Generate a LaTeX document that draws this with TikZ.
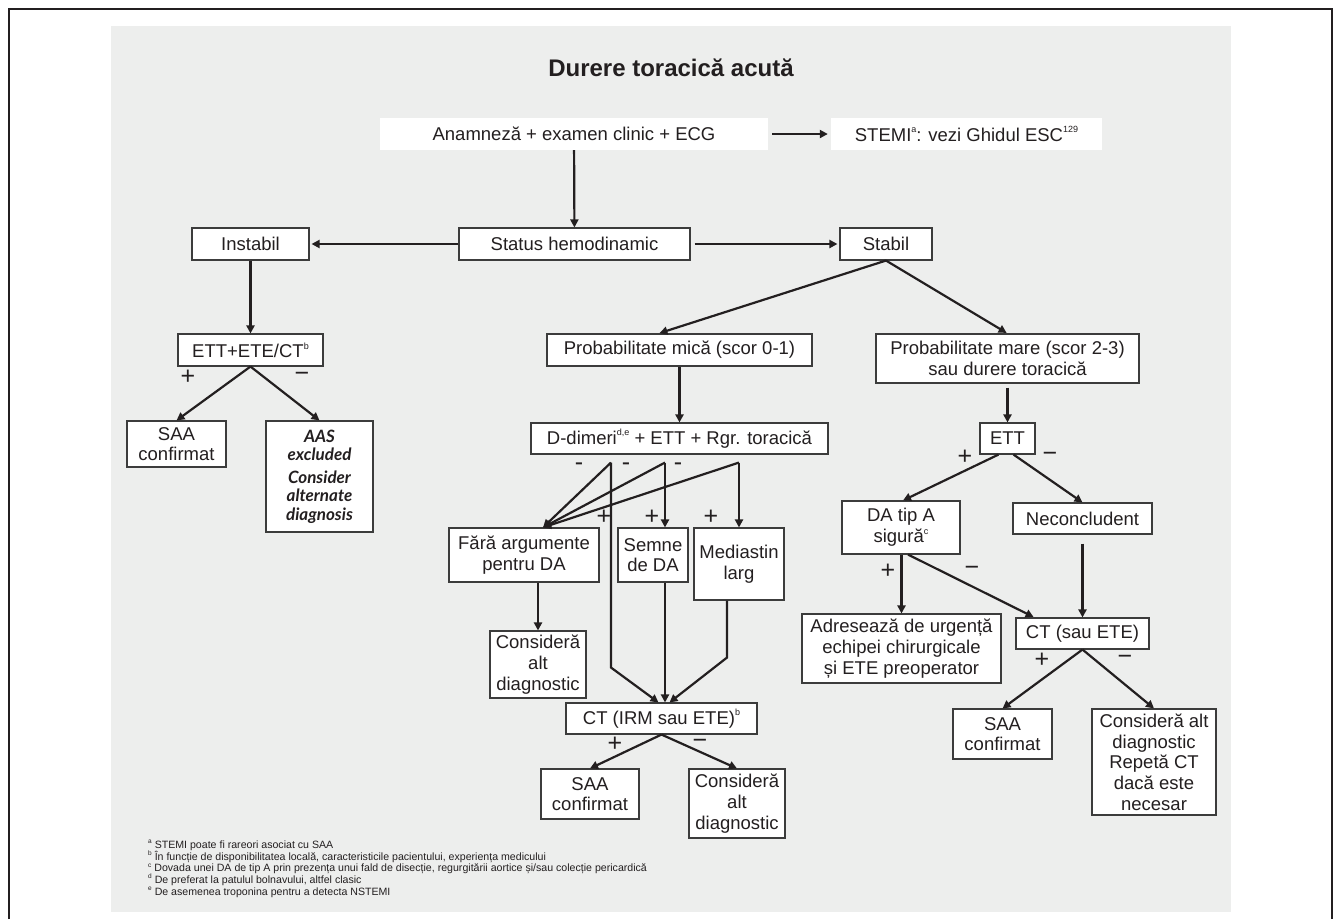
\documentclass[tikz,border=0pt]{standalone}
\usepackage{fontspec}
\setmainfont{Liberation Sans}
\newfontfamily\aasfont{Lato}
\usetikzlibrary{arrows.meta,calc}
\definecolor{panel}{HTML}{EDEEED}
\definecolor{ink}{HTML}{231F20}
\definecolor{edge}{HTML}{3C3C3C}
\newcommand{\mysup}[1]{\raisebox{0.85ex}{\fontsize{9}{9}\selectfont #1}}
\newcommand{\fnsup}[1]{\raisebox{0.8ex}{\fontsize{6.5}{6.5}\selectfont #1}}
\begin{document}
\begin{tikzpicture}[x=1pt,y=-1pt,
  font=\fontsize{18.5}{20.7}\selectfont, text=ink,
  box/.style={draw=edge, line width=1.1pt, fill=white, align=center, inner sep=0pt},
  wbox/.style={fill=white, align=center, inner sep=0pt},
  conn/.style={draw=ink, line width=2.2pt},
  arr/.style={conn, -{Triangle[length=8pt,width=8pt]}},
  sgn/.style={font=\fontsize{25}{25}\selectfont, inner sep=0pt},
  fn/.style={anchor=base west, inner sep=0pt, font=\fontsize{10.6}{12}\selectfont}]
\useasboundingbox (0,0) rectangle (1335,919);
\fill[panel] (111,26) rectangle (1231,912);
\draw[line width=1.8pt, draw=ink] (9,919) -- (9,9) -- (1332,9) -- (1332,919);

% title
\node[font=\fontsize{24}{26}\selectfont\bfseries, inner sep=0pt] (title) at (671,68) {Durere toracică acută};

% top row
\node[wbox, minimum width=388, minimum height=32] (anam) at (574,134) {Anamneză + examen clinic + ECG};
\node[wbox, minimum width=271, minimum height=32] (stemi) at (966.5,134) {STEMI\mysup{a}: vezi Ghidul ESC\mysup{129}};
\node[box, minimum width=231, minimum height=32] (status) at (574.5,244) {Status hemodinamic};
\node[box, minimum width=117, minimum height=32] (instabil) at (250.5,244) {Instabil};
\node[box, minimum width=92, minimum height=32] (stabil) at (886,244) {Stabil};

% left branch
\node[box, minimum width=145, minimum height=32] (ettl) at (250.5,350) {ETT+ETE/CT\mysup{b}};
\node[box, minimum width=99, minimum height=46] (saa1) at (176.5,444) {SAA\\confirmat};
\node[box, minimum width=107, minimum height=111, font=\aasfont\fontsize{17}{18.3}\selectfont\bfseries\itshape] (aas) at (319.5,476.5) {AAS\\excluded\\[5pt]Consider\\alternate\\diagnosis};

% middle branch
\node[box, minimum width=265, minimum height=32] (pmica) at (679.5,350) {Probabilitate mică (scor 0-1)};
\node[box, minimum width=297, minimum height=31] (ddim) at (679.5,438.5) {D-dimeri\mysup{d,e} + ETT + Rgr. toracică};
\node[box, minimum width=150, minimum height=54] (fara) at (524,555) {Fără argumente\\pentru DA};
\node[box, minimum width=70, minimum height=54] (semne) at (653,555) {Semne\\de DA};
\node[box, minimum width=90, minimum height=72] (medi) at (739,564) {Mediastin\\larg};
\node[box, minimum width=96, minimum height=67] (cons1) at (538,664.5) {Consideră\\alt\\diagnostic};
\node[box, minimum width=191, minimum height=31] (ctm) at (661.5,718.5) {CT (IRM sau ETE)\mysup{b}};
\node[box, minimum width=98, minimum height=50] (saa2) at (590,794) {SAA\\confirmat};
\node[box, minimum width=96, minimum height=69] (cons2) at (737,803.5) {Consideră\\alt\\diagnostic};

% right branch
\node[box, minimum width=263, minimum height=49] (pmare) at (1007.5,358.5) {Probabilitate mare (scor 2-3)\\sau durere toracică};
\node[box, minimum width=55, minimum height=31] (ettr) at (1007.5,438.5) {ETT};
\node[box, minimum width=118, minimum height=53] (datipa) at (901,527.5) {DA tip A\\sigură\mysup{c}};
\node[box, minimum width=139, minimum height=31] (necon) at (1082.5,518.5) {Neconcludent};
\node[box, minimum width=199, minimum height=69] (adr) at (901.5,648.5) {Adresează de urgență\\echipei chirurgicale\\și ETE preoperator};
\node[box, minimum width=133, minimum height=31] (ctr) at (1082.5,633.5) {CT (sau ETE)};
\node[box, minimum width=99, minimum height=50] (saa3) at (1002.5,734) {SAA\\confirmat};
\node[box, minimum width=124, minimum height=106] (cons3) at (1154,762) {Consideră alt\\diagnostic\\Repetă CT\\dacă este\\necesar};

% connectors top
\draw[arr, shorten <=4pt, shorten >=3pt] (anam) -- (stemi);
\draw[arr] (anam) -- (status);
\draw[arr, shorten >=2pt] (status) -- (instabil);
\draw[arr, shorten <=4pt, shorten >=2pt] (status) -- (stabil);
\draw[arr] (instabil) -- (ettl);
\draw[arr] (ettl.south) -- (saa1.north);
\draw[arr] (ettl.south) -- (aas.north);
\draw[arr, shorten >=1pt] (stabil.south) -- ($(pmica.north)+(-21,0)$);
\draw[arr, shorten >=1pt] (stabil.south) -- (pmare.north);
\draw[arr] (pmica) -- (ddim);
\draw[arr, shorten <=4pt] (pmare) -- (ettr);

% D-dimeri fan
\coordinate (b1) at ($(ddim.south)+(-68.5,8)$);
\coordinate (b2) at ($(ddim.south)+(-14.5,8)$);
\coordinate (b3) at ($(ddim.south)+(59.5,8)$);
\coordinate (ft) at ($(fara.north)+(19,0)$);
\draw[arr] (b1) -- (ft);
\draw[arr] (b2) -- (ft);
\draw[arr] (b3) -- (ft);
\draw[arr] (b2) -- (b2 |- semne.north);
\draw[arr] (b3) -- (b3 |- medi.north);
\draw[arr] (b1) -- ++(0,205) -- ($(ctm.north)+(-3,0)$);
\draw[arr] (b2 |- semne.south) -- (b2 |- ctm.north);
\draw[arr] ($(medi.south)+(-12,0)$) -- ++(0,57) -- ($(ctm.north)+(8,0)$);
\draw[arr] (fara.south -| cons1.north) -- (cons1.north);
\draw[arr] (ctm.south) -- (saa2.north);
\draw[arr] (ctm.south) -- (cons2.north);

% right connectors
\draw[arr] ($(ettr.south)+(-9,0)$) -- ($(datipa.north)+(2,0)$);
\draw[arr] ($(ettr.south)+(6,0)$) -- (necon.north);
\draw[arr] (datipa.south -| adr.north) -- (adr.north);
\draw[arr, shorten >=1pt] ($(datipa.south)+(7,0)$) -- ($(ctr.north west)+(19,0)$);
\draw[arr, shorten <=9pt] (necon) -- (ctr);
\draw[arr] (ctr.south) -- (saa3.north);
\draw[arr] (ctr.south) -- (cons3.north);

% signs
\node[sgn] (s1) at (188,377) {+};
\node[sgn] (s2) at (302,377) {−};
\node[sgn] (s3) at (579,467) {-};
\node[sgn] (s4) at (626,467) {-};
\node[sgn] (s5) at (678,467) {-};
\node[sgn] (s6) at (604,517) {+};
\node[sgn] (s7) at (652,517) {+};
\node[sgn] (s8) at (711,517) {+};
\node[sgn] (s9) at (615,744) {+};
\node[sgn] (s10) at (700,744) {−};
\node[sgn] (s11) at (965,457) {+};
\node[sgn] (s12) at (1050,457) {−};
\node[sgn] (s13) at (888,571) {+};
\node[sgn] (s14) at (972,571) {−};
\node[sgn] (s15) at (1042,660) {+};
\node[sgn] (s16) at (1125,660) {−};

% footnotes
\node[fn] (fa) at (148,848) {\fnsup{a} STEMI poate fi rareori asociat cu SAA};
\node[fn] (fb) at (148,860) {\fnsup{b} În funcție de disponibilitatea locală, caracteristicile pacientului, experiența medicului};
\node[fn] (fc) at (148,871.5) {\fnsup{c} Dovada unei DA de tip A prin prezența unui fald de disecție, regurgitării aortice și/sau colecție pericardică};
\node[fn] (fd) at (148,883) {\fnsup{d} De preferat la patulul bolnavului, altfel clasic};
\node[fn] (fe) at (148,895) {\fnsup{e} De asemenea troponina pentru a detecta NSTEMI};
\end{tikzpicture}
\end{document}
